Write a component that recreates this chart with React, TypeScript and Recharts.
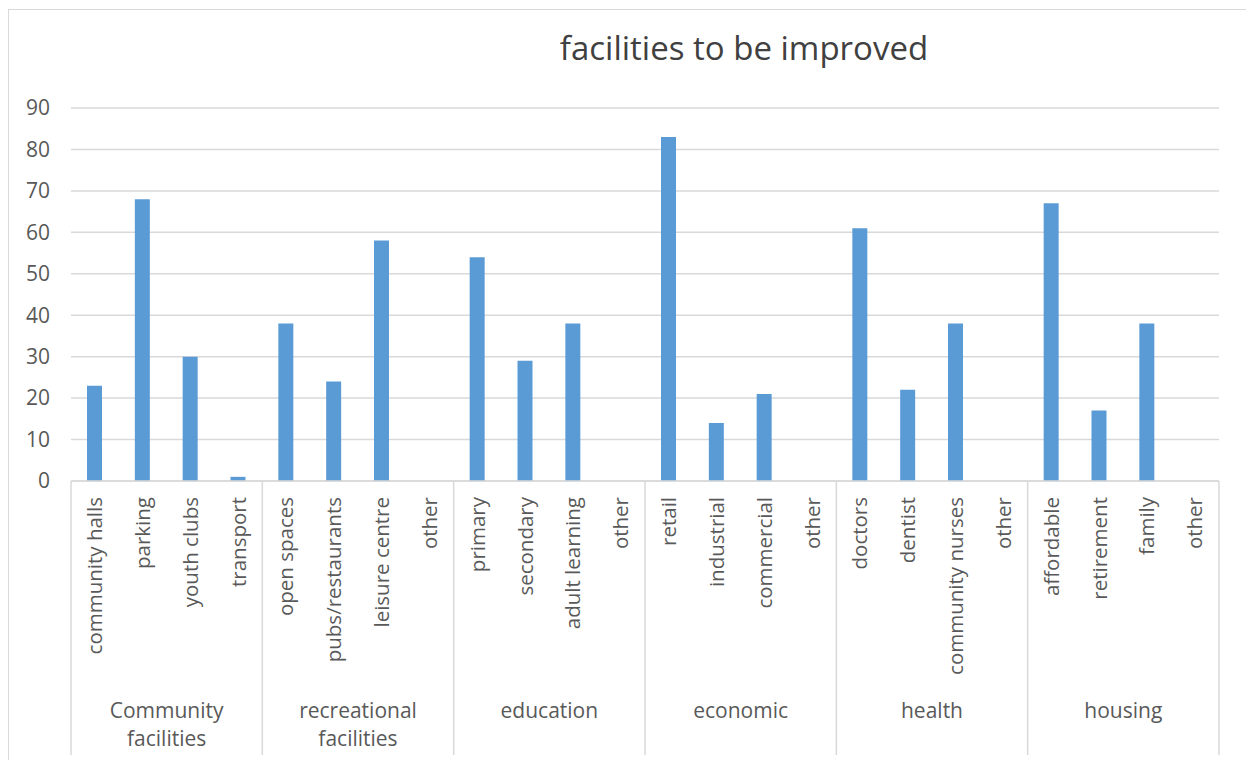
import React from "react";
import { BarChart, Bar, XAxis, YAxis, CartesianGrid } from "recharts";

const categories = [
  "community halls", "parking", "youth clubs", "transport",
  "open spaces", "pubs/restaurants", "leisure centre", "other",
  "primary", "secondary", "adult learning", "other",
  "retail", "industrial", "commercial", "other",
  "doctors", "dentist", "community nurses", "other",
  "affordable", "retirement", "family", "other",
];

const counts = [
  23, 68, 30, 1,
  38, 24, 58, 0,
  54, 29, 38, 0,
  83, 14, 21, 0,
  61, 22, 38, 0,
  67, 17, 38, 0,
];

const groupLabels = [
  ["Community", "facilities"],
  ["recreational", "facilities"],
  ["education"],
  ["economic"],
  ["health"],
  ["housing"],
];

const perGroup = 4;
const yTicks = [0, 10, 20, 30, 40, 50, 60, 70, 80, 90];

const data = categories.map((name, i) => ({
  key: `${i}`,
  name,
  value: counts[i],
  group: Math.floor(i / perGroup),
}));

const FONT = "'Open Sans', 'Noto Sans', sans-serif";
const TEXT = "#595959";
const LINE = "#d9d9d9";

function CategoryTick(props: any) {
  const { x, y, payload, index } = props;
  const half = payload?.offset || 23.9;
  const lastIndex = data.length - 1;
  const first = index % perGroup === 0;
  const g = Math.floor(index / perGroup);
  const lines = groupLabels[g];
  const cx = x - half + half * perGroup;
  return (
    <g>
      <text
        transform={`translate(${x},${y + 16}) rotate(-90)`}
        textAnchor="end"
        dy="0.35em"
        fontSize={20.5}
        fontFamily={FONT}
        fill={TEXT}
      >
        {data[index].name}
      </text>
      {first && (
        <line x1={x - half} x2={x - half} y1={y} y2={y + 274} stroke={LINE} strokeWidth={1.5} />
      )}
      {index === lastIndex && (
        <line x1={x + half} x2={x + half} y1={y} y2={y + 274} stroke={LINE} strokeWidth={1.5} />
      )}
      {first && (
        <text x={cx} y={y + 230} textAnchor="middle" fontSize={21} fontFamily={FONT} fill={TEXT}>
          {lines.map((ln, i) => (
            <tspan key={ln} x={cx} dy={i === 0 ? "0.35em" : 28}>
              {ln}
            </tspan>
          ))}
        </text>
      )}
    </g>
  );
}

function ValueTick(props: any) {
  const { y, payload } = props;
  return (
    <text x={50} y={y} textAnchor="end" dy="0.35em" fontSize={21} fontFamily={FONT} fill={TEXT}>
      {payload.value}
    </text>
  );
}

export default function App() {
  return (
    <div style={{ position: "absolute", left: 0, top: 0, width: 1246, height: 760, background: "#fff", overflow: "hidden" }}>
      <div
        style={{
          position: "absolute",
          left: 8,
          top: 9,
          width: 1300,
          height: 800,
          borderLeft: `1.5px solid ${LINE}`,
          borderTop: `1.5px solid ${LINE}`,
        }}
      />
      <div
        style={{
          position: "absolute",
          left: 494,
          top: 27,
          width: 500,
          textAlign: "center",
          fontFamily: FONT,
          fontSize: 33,
          lineHeight: "42px",
          color: "#404040",
        }}
      >
        facilities to be improved
      </div>
      <div style={{ position: "absolute", left: 0, top: 0 }}>
        <BarChart
          width={1246}
          height={760}
          data={data}
          margin={{ top: 108, right: 27, bottom: 0, left: 0 }}
          barSize={15}
        >
          <CartesianGrid vertical={false} stroke={LINE} strokeWidth={1.5} />
          <XAxis
            dataKey="key"
            interval={0}
            height={279}
            tickLine={false}
            tickSize={0}
            tickMargin={0}
            axisLine={{ stroke: LINE, strokeWidth: 1.5 }}
            tick={<CategoryTick />}
          />
          <YAxis
            width={71}
            domain={[0, 90]}
            ticks={yTicks}
            axisLine={false}
            tickLine={false}
            tick={<ValueTick />}
          />
          <Bar dataKey="value" fill="#5b9bd5" isAnimationActive={false} />
        </BarChart>
      </div>
    </div>
  );
}
